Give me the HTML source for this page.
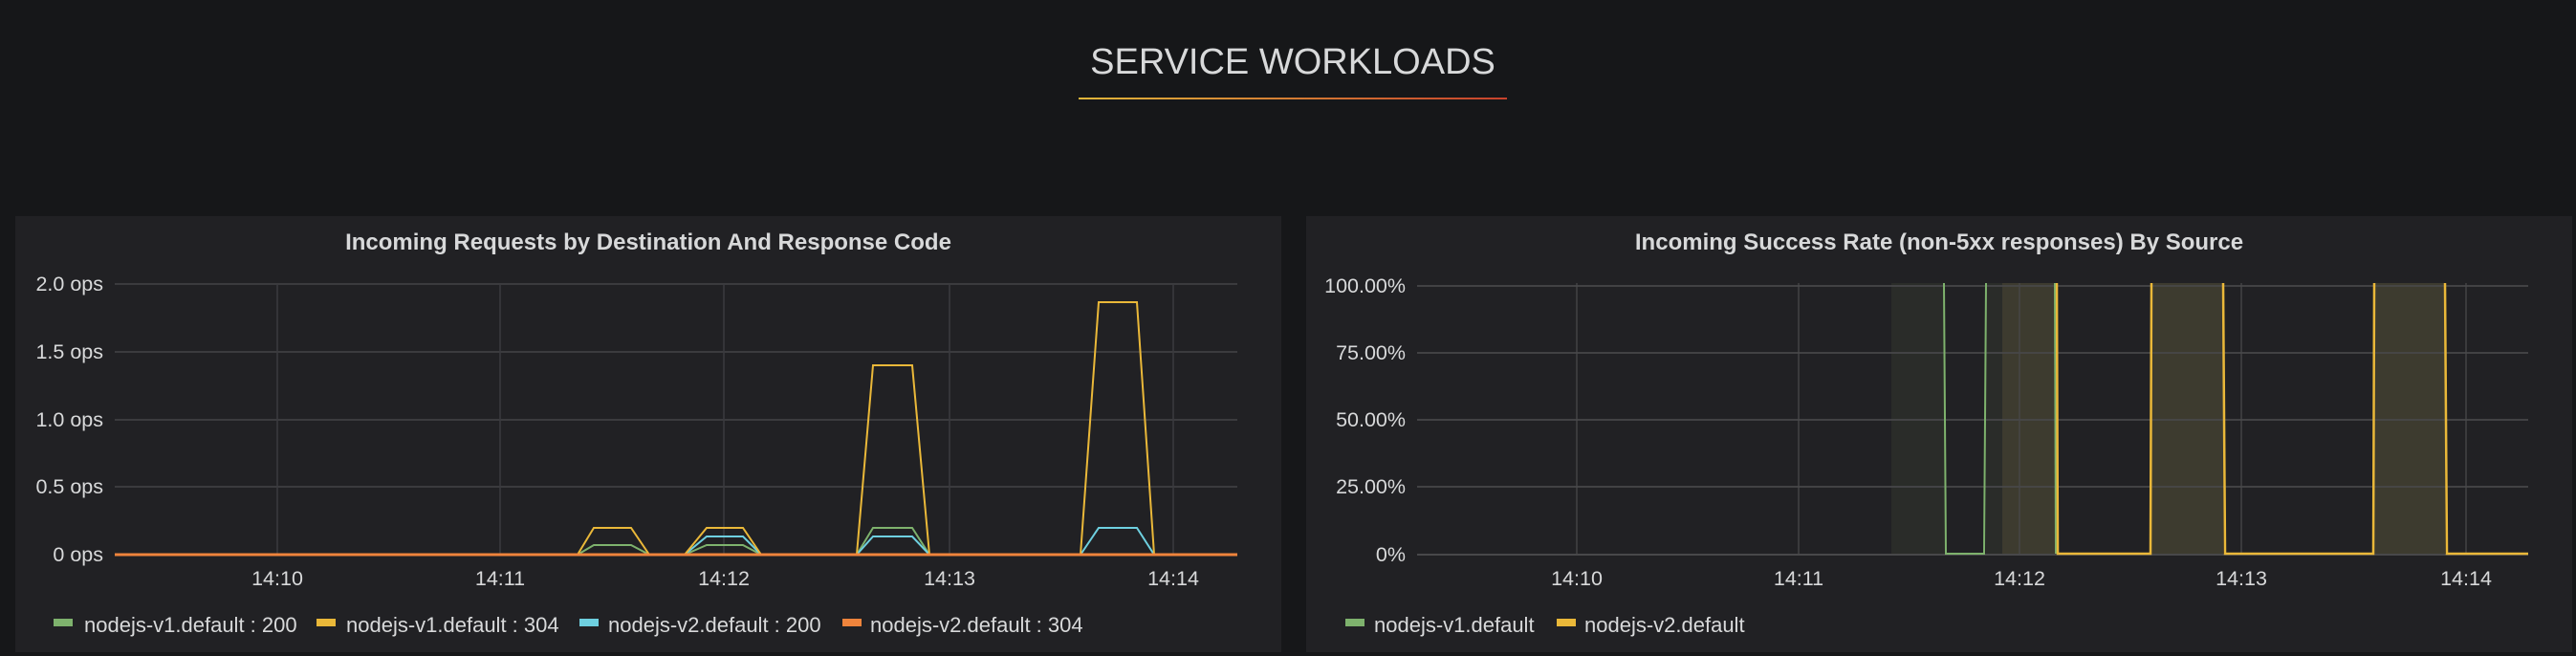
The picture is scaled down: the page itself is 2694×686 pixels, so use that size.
<!DOCTYPE html>
<html><head><meta charset="utf-8"><style>
html,body{margin:0;padding:0;background:#161719;width:2694px;height:686px;overflow:hidden}
svg{display:block}
text{font-family:"Liberation Sans",sans-serif}
</style></head><body>
<svg width="2694" height="686" viewBox="0 0 2694 686" xmlns="http://www.w3.org/2000/svg">
<defs><linearGradient id="g" x1="0" x2="1"><stop offset="0" stop-color="#e0b63a"/><stop offset="1" stop-color="#c8422c"/></linearGradient></defs>
<rect width="2694" height="686" fill="#161719"/>
<text x="1352" y="77" font-size="38" fill="#d8d9da" text-anchor="middle">SERVICE WORKLOADS</text>
<rect x="1128" y="102" width="448" height="2" fill="url(#g)"/>

<!-- left panel -->
<rect x="16" y="226" width="1324" height="456" fill="#212124"/>
<text x="678" y="261" font-size="24" font-weight="bold" fill="#d8d9da" text-anchor="middle">Incoming Requests by Destination And Response Code</text>
<g stroke="#3b3b3e" stroke-width="2">
<line x1="120" y1="297" x2="1294" y2="297"/><line x1="120" y1="368" x2="1294" y2="368"/><line x1="120" y1="439" x2="1294" y2="439"/><line x1="120" y1="509" x2="1294" y2="509"/>
</g>
<g stroke="#3b3b3e" stroke-width="1.5">
<line x1="290" y1="297" x2="290" y2="580"/><line x1="523" y1="297" x2="523" y2="580"/><line x1="757" y1="297" x2="757" y2="580"/><line x1="993" y1="297" x2="993" y2="580"/><line x1="1227" y1="297" x2="1227" y2="580"/>
</g>
<g font-size="21.5" fill="#d8d9da" text-anchor="end">
<text x="108" y="304">2.0 ops</text><text x="108" y="375">1.5 ops</text><text x="108" y="446">1.0 ops</text><text x="108" y="516">0.5 ops</text><text x="108" y="587">0 ops</text>
</g>
<g font-size="21.5" fill="#d8d9da" text-anchor="middle">
<text x="290" y="612">14:10</text><text x="523" y="612">14:11</text><text x="757" y="612">14:12</text><text x="993" y="612">14:13</text><text x="1227" y="612">14:14</text>
</g>
<g fill="none" stroke-width="2">
<polyline stroke="#7eb26d" points="120,580 604,580 621,570 660,570 679,580 716,580 739,570 777,570 796,580 896,580 913,552 954,552 972,580 1294,580"/>
<polyline stroke="#6ed0e0" points="120,580 716,580 739,561 777,561 796,580 896,580 913,561 954,561 972,580 1130,580 1149,552 1189,552 1207,580 1294,580"/>
<polyline stroke="#eab839" points="120,580 604,580 621,552 660,552 679,580 716,580 739,552 777,552 796,580 896,580 913,382 954,382 972,580 1130,580 1149,316 1189,316 1207,580 1294,580"/>
<line x1="120" y1="580" x2="1294" y2="580" stroke="#ef843c" stroke-width="3"/>
</g>
<g font-size="22" fill="#d8d9da">
<rect x="56" y="647" width="20" height="8" fill="#7eb26d"/><text x="88" y="661">nodejs-v1.default : 200</text>
<rect x="331" y="647" width="20" height="8" fill="#eab839"/><text x="362" y="661">nodejs-v1.default : 304</text>
<rect x="606" y="647" width="20" height="8" fill="#6ed0e0"/><text x="636" y="661">nodejs-v2.default : 200</text>
<rect x="881" y="647" width="20" height="8" fill="#ef843c"/><text x="910" y="661">nodejs-v2.default : 304</text>
</g>

<!-- right panel -->
<rect x="1366" y="226" width="1324" height="456" fill="#212124"/>
<text x="2028" y="261" font-size="24" font-weight="bold" fill="#d8d9da" text-anchor="middle">Incoming Success Rate (non-5xx responses) By Source</text>
<rect x="1978" y="296" width="56" height="284" fill="#2a2c29"/>
<rect x="2077" y="296" width="17" height="284" fill="#2a2c29"/>
<rect x="2094" y="296" width="56" height="284" fill="#3d3b2f"/>
<rect x="2250" y="296" width="75" height="284" fill="#3d3b2f"/>
<rect x="2483" y="296" width="74" height="284" fill="#3d3b2f"/>
<g stroke="#48484a" stroke-width="2" opacity="0.85">
<line x1="1482" y1="299" x2="2644" y2="299"/><line x1="1482" y1="369" x2="2644" y2="369"/><line x1="1482" y1="439" x2="2644" y2="439"/><line x1="1482" y1="509" x2="2644" y2="509"/>
</g>
<g stroke="#48484a" stroke-width="1.5" opacity="0.85">
<line x1="1649" y1="296" x2="1649" y2="580"/><line x1="1881" y1="296" x2="1881" y2="580"/><line x1="2112" y1="296" x2="2112" y2="580"/><line x1="2344" y1="296" x2="2344" y2="580"/><line x1="2579" y1="296" x2="2579" y2="580"/>
</g>
<line x1="1482" y1="580" x2="2644" y2="580" stroke="#48484a" stroke-width="2"/>
<g font-size="21.5" fill="#d8d9da" text-anchor="end">
<text x="1470" y="306">100.00%</text><text x="1470" y="376">75.00%</text><text x="1470" y="446">50.00%</text><text x="1470" y="516">25.00%</text><text x="1470" y="587">0%</text>
</g>
<g font-size="21.5" fill="#d8d9da" text-anchor="middle">
<text x="1649" y="612">14:10</text><text x="1881" y="612">14:11</text><text x="2112" y="612">14:12</text><text x="2344" y="612">14:13</text><text x="2579" y="612">14:14</text>
</g>
<g fill="none" stroke-width="2">
<polyline stroke="#7eb26d" points="2033,296 2035,579 2075,579 2077,296"/>
<line x1="2149" y1="296" x2="2150" y2="579" stroke="#7eb26d"/>
<polyline stroke="#eab839" stroke-width="2.5" points="2151,296 2152,579 2249,579 2250,296"/>
<polyline stroke="#eab839" stroke-width="2.5" points="2325,296 2327,579 2482,579 2483,296"/>
<polyline stroke="#eab839" stroke-width="2.5" points="2557,296 2559,579 2644,579"/>
</g>
<g font-size="22" fill="#d8d9da">
<rect x="1407" y="647" width="20" height="8" fill="#7eb26d"/><text x="1437" y="661">nodejs-v1.default</text>
<rect x="1628" y="647" width="20" height="8" fill="#eab839"/><text x="1657" y="661">nodejs-v2.default</text>
</g>
</svg>
</body></html>
